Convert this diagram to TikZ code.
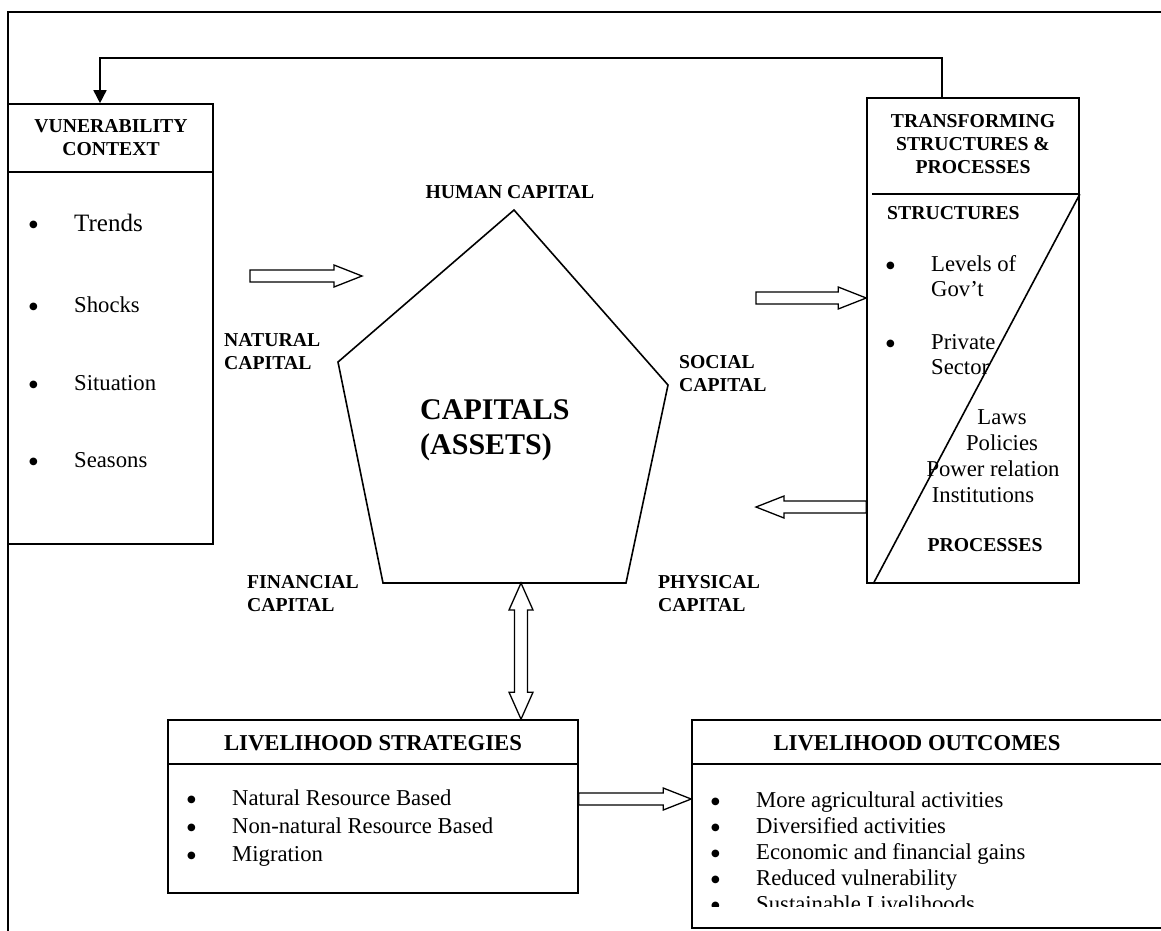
\documentclass[tikz,border=0pt]{standalone}
\usepackage{fontspec}
\setmainfont{Liberation Serif}
\newfontfamily\dejavu{DejaVu Sans}
\usepackage{tikz}
\usetikzlibrary{arrows.meta,positioning,calc}
\newcommand{\bul}{\makebox[45pt][l]{\raisebox{3.2pt}{\dejavu\fontsize{10}{10}\selectfont ●}}}
\newcommand{\rblock}[2]{\draw[blk] ($(#1)+(0,-6)$) -- ($(#2)+(-28,-6)$) -- ($(#2)+(-28,-11)$) -- (#2) -- ($(#2)+(-28,11)$) -- ($(#2)+(-28,6)$) -- ($(#1)+(0,6)$) -- cycle;}
\newcommand{\lblock}[2]{\draw[blk] ($(#1)+(0,-6)$) -- ($(#2)+(28,-6)$) -- ($(#2)+(28,-11)$) -- (#2) -- ($(#2)+(28,11)$) -- ($(#2)+(28,6)$) -- ($(#1)+(0,6)$) -- cycle;}
\newcommand{\vdblock}[2]{\draw[blk] (#1) -- ($(#1)+(12,27)$) -- ($(#1)+(6.5,27)$) -- ($(#2)+(6.5,-27)$) -- ($(#2)+(12,-27)$) -- (#2) -- ($(#2)+(-12,-27)$) -- ($(#2)+(-6.5,-27)$) -- ($(#1)+(-6.5,27)$) -- ($(#1)+(-12,27)$) -- cycle;}

\begin{document}
\begin{tikzpicture}[x=1pt,y=-1pt,
  line/.style={draw,line width=1.6pt},
  box/.style={line,rectangle,inner sep=0pt},
  blk/.style={draw,line width=1.3pt,fill=white,line join=miter},
  lab/.style={font=\bfseries\fontsize{19.7}{23}\selectfont,inner sep=0pt,align=center},
  item/.style={font=\fontsize{22.7}{25}\selectfont,inner sep=0pt,anchor=base west},
  head/.style={font=\bfseries\fontsize{22.7}{25}\selectfont,inner sep=0pt},
  fb/.style={line,-{Triangle[length=13pt,width=13pt]}}]
  \useasboundingbox (0,0) rectangle (1161,930);
  \draw[line] (8,940) -- (8,12) -- (1175,12);
  \node[box,minimum width=205pt,minimum height=440pt] (vul) at (110.5,324) {};
  \node[box,minimum width=212pt,minimum height=485pt] (tsp) at (973,340.5) {};
  \node[box,minimum width=410pt,minimum height=173pt] (lsb) at (373,806.5) {};
  \node[box,minimum width=476pt,minimum height=208pt] (lob) at (930,824) {};
  \draw[line] ([yshift=-69pt]vul.north west) -- ([yshift=-69pt]vul.north east);
  \draw[line] ([xshift=6pt,yshift=-97pt]tsp.north west) -- ([yshift=-97pt]tsp.north east);
  \draw[line] ([xshift=7pt]tsp.south west) -- ([yshift=-97pt]tsp.north east);
  \draw[line] ([yshift=-45pt]lsb.north west) -- ([yshift=-45pt]lsb.north east);
  \draw[line] ([yshift=-45pt]lob.north west) -- ([yshift=-45pt]lob.north east);
  \draw[fb] ([xshift=-31pt]tsp.north) |- ([xshift=-10.5pt,yshift=45pt]vul.north) -- ([xshift=-10.5pt]vul.north);

  \node[lab] (vult) at (111,137.5) {VUNERABILITY\\CONTEXT};
  \node[item,font=\fontsize{25}{28}\selectfont] (trends) at (29,231) {\bul Trends};
  \node[item] (shocks) at (29,312.5) {\bul Shocks};
  \node[item] (situ) at (29,390.5) {\bul Situation};
  \node[item] (seas) at (29,467.5) {\bul Seasons};

  \coordinate (hum) at (514,210);
  \coordinate (nat) at (338,362);
  \coordinate (soc) at (668,385);
  \coordinate (fin) at (383,583);
  \coordinate (phy) at (626,583);
  \draw[line,line join=miter] (hum) -- (soc) -- (phy) -- (fin) -- (nat) -- cycle;
  \node[lab] (humt) at (510,192) {HUMAN CAPITAL};
  \node[lab,anchor=west,align=left] (natt) at (224,351.5) {NATURAL\\CAPITAL};
  \node[lab,anchor=west,align=left] (soct) at (679,373.5) {SOCIAL\\CAPITAL};
  \node[lab,anchor=west,align=left] (fint) at (247,594) {FINANCIAL\\CAPITAL};
  \node[lab,anchor=west,align=left] (phyt) at (658,594) {PHYSICAL\\CAPITAL};
  \node[lab,anchor=west,align=left,font=\bfseries\fontsize{30}{35}\selectfont] (cap) at (420,430.5) {CAPITALS\\(ASSETS)};

  \node[lab] (tspt) at (973,144.5) {TRANSFORMING\\STRUCTURES \&\\PROCESSES};
  \node[lab,anchor=west] (str) at (887,213) {STRUCTURES};
  \node[item,anchor=west,align=left] (gov) at (886,276.5) {\bul Levels of\\\hspace*{45pt}Gov’t};
  \node[item,anchor=west,align=left] (priv) at (886,355) {\bul Private\\\hspace*{45pt}Sector};
  \node[item,anchor=center,align=center,font=\fontsize{22.7}{26}\selectfont] (laws) at (993,456) {\hspace*{18pt}Laws\\\hspace*{18pt}Policies\\Power relation\\Institutions\hspace*{20pt}};
  \node[lab] (proc) at (985,545) {PROCESSES};

  \coordinate (va) at (250,276);
  \coordinate (vb) at (362,276);
  \rblock{va}{vb}
  \coordinate (sa) at (756,298);
  \coordinate (tin) at (tsp.west |- sa);
  \rblock{sa}{tin}
  \coordinate (pb) at (756,507);
  \coordinate (tout) at (tsp.west |- pb);
  \lblock{tout}{pb}
  \coordinate (db1) at (521,583);
  \coordinate (db2) at (lsb.north -| db1);
  \vdblock{db1}{db2}
  \coordinate (so1) at (lsb.east |- 0,799);
  \coordinate (so2) at (lob.west |- so1);
  \rblock{so1}{so2}

  \node[head] (lsbt) at (373,743) {LIVELIHOOD STRATEGIES};
  \node[item] (nrb) at (187,805.5) {\bul Natural Resource Based};
  \node[item] (nnrb) at (187,833.5) {\bul Non-natural Resource Based};
  \node[item] (migr) at (187,861.5) {\bul Migration};

  \node[head] (lobt) at (917,743) {LIVELIHOOD OUTCOMES};
  \begin{scope}
    \clip (lob.north west) rectangle (lob.east |- 0,906);
    \node[item] (agri) at (711,807.5) {\bul More agricultural activities};
    \node[item] (divs) at (711,833.5) {\bul Diversified activities};
    \node[item] (econ) at (711,859.5) {\bul Economic and financial gains};
    \node[item] (redv) at (711,885.5) {\bul Reduced vulnerability};
    \node[item] (sust) at (711,911.5) {\bul Sustainable Livelihoods};
  \end{scope}
\end{tikzpicture}
\end{document}
